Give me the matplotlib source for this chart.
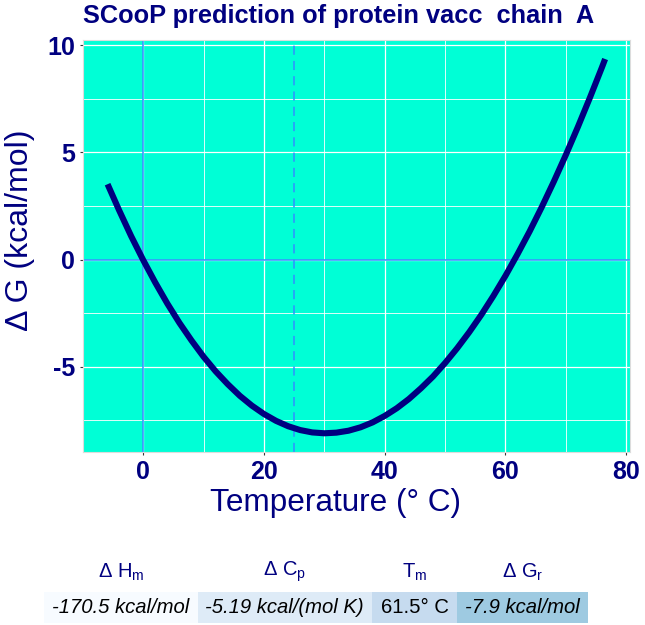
import matplotlib
matplotlib.use("Agg")
import matplotlib.pyplot as plt
from matplotlib.patches import Rectangle
from matplotlib.ticker import MultipleLocator

plt.rcParams['font.family'] = ['Liberation Sans', 'DejaVu Sans']
plt.rcParams['mathtext.fontset'] = 'custom'
plt.rcParams['mathtext.rm'] = 'Liberation Sans'
plt.rcParams['mathtext.it'] = 'Liberation Sans:italic'
plt.rcParams['axes.unicode_minus'] = False

# ---- data ----
temperature = [-5.9, -4, -2, 0, 2, 4, 6, 8, 10, 12, 14, 16, 18, 20, 22, 24, 26, 28,
               30, 32, 34, 36, 38, 40, 42, 44, 46, 48, 50, 52, 54, 56, 58, 60, 62,
               64, 66, 68, 70, 72, 74, 76, 76.5]
delta_g = [3.52, 2.31, 1.10, -0.02, -1.07, -2.05, -2.95, -3.77, -4.53, -5.21, -5.81,
           -6.35, -6.81, -7.20, -7.52, -7.77, -7.95, -8.06, -8.10, -8.07, -7.98,
           -7.82, -7.59, -7.29, -6.93, -6.50, -6.00, -5.45, -4.82, -4.13, -3.38,
           -2.57, -1.69, -0.75, 0.26, 1.32, 2.45, 3.64, 4.89, 6.20, 7.57, 8.99, 9.36]
ref_temperature = 25
x_ticks = [0, 20, 40, 60, 80]
y_ticks = [-5, 0, 5, 10]

table_headers = [r'Δ H$_{\mathrm{m}}$', r'Δ C$_{\mathrm{p}}$', r'T$_{\mathrm{m}}$', r'Δ G$_{\mathrm{r}}$']
table_values = ['-170.5 kcal/mol', '-5.19 kcal/(mol K)', '61.5° C', '-7.9 kcal/mol']
table_italic = [True, True, False, True]
table_colors = ['#F7FBFF', '#DEEBF7', '#C6DBEF', '#9ECAE1']
title = 'SCooP prediction of protein vacc  chain  A'

NAVY = '#000080'
W, H = 645, 625
fig = plt.figure(figsize=(W / 100, H / 100), dpi=100)

def fx(px):
    return px / W

def fy(py):
    return 1 - py / H

left, right, top, bottom = 82.7, 630, 40.3, 452
ax = fig.add_axes([fx(left), fy(bottom), (right - left) / W, (bottom - top) / H])
ax.set_facecolor('#00FFD6')
for s in ax.spines.values():
    s.set_color('#DCDCDC')
    s.set_linewidth(0.8)

ax.xaxis.set_major_locator(MultipleLocator(20))
ax.xaxis.set_minor_locator(MultipleLocator(10))
ax.yaxis.set_major_locator(MultipleLocator(5))
ax.yaxis.set_minor_locator(MultipleLocator(2.5))
ax.grid(True, which='major', color='white', lw=0.9, zorder=0)
ax.grid(True, which='minor', color='white', lw=0.6, zorder=0)
ax.set_axisbelow(True)

ax.axvline(0, color='#2F8FFF', lw=1.1, zorder=2)
ax.axhline(0, color='#2F8FFF', lw=1.1, zorder=2)
ax.axvline(ref_temperature, color='#2F8FFF', lw=1.1, dashes=(6, 4), zorder=2)

ax.plot(temperature, delta_g, color=NAVY, lw=4.4, solid_capstyle='butt',
        solid_joinstyle='round', zorder=3)
ax.margins(x=0.05, y=0.05)

ax.set_xticks(x_ticks)
ax.set_yticks(y_ticks)
ax.tick_params(which='major', length=2.5, width=0.8, color='#333333', labelcolor=NAVY,
               labelsize=18, pad=3)
ax.tick_params(which='minor', length=0)
for lab in ax.get_xticklabels() + ax.get_yticklabels():
    lab.set_fontweight('bold')

fig.text(fx(339), fy(16), title, ha='center', va='center', fontsize=18.3,
         fontweight='bold', color=NAVY)
fig.text(fx(336), fy(503), 'Temperature (° C)', ha='center', va='center',
         fontsize=22.7, color=NAVY)
fig.text(fx(20), fy(230), 'Δ G (kcal/mol)', ha='center', va='center',
         rotation=90, fontsize=23, color=NAVY)

# ---- parameter table ----
cell_edges = [44, 197.5, 372, 457, 588]
cell_top, cell_bot = 592, 623
for i in range(4):
    x0, x1 = cell_edges[i], cell_edges[i + 1]
    fig.patches.append(Rectangle((fx(x0), fy(cell_bot)), (x1 - x0) / W,
                                 (cell_bot - cell_top) / H, transform=fig.transFigure,
                                 facecolor=table_colors[i], edgecolor='none'))
    cx = (x0 + x1) / 2
    fig.text(fx(cx), fy(572), table_headers[i], ha='center', va='center',
             fontsize=14.5, color=NAVY)
    fig.text(fx(cx), fy((cell_top + cell_bot) / 2), table_values[i], ha='center',
             va='center', fontsize=14.6, color='black',
             style='italic' if table_italic[i] else 'normal')

fig.savefig('out.png', dpi=100)
